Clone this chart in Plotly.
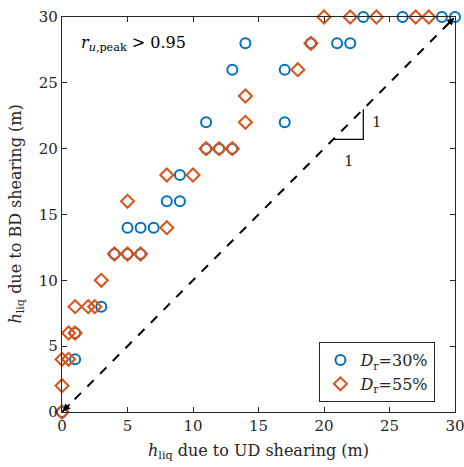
import plotly.graph_objects as go

# Dr = 30 % (blue circles)
ud_30 = [0, 1, 1, 3, 4, 5, 6, 5, 6, 7, 8, 9, 9, 11, 12, 13, 11, 17, 13, 17, 14, 19, 21, 22, 23, 26, 29, 30]
bd_30 = [0, 4, 6, 8, 12, 12, 12, 14, 14, 14, 16, 16, 18, 20, 20, 20, 22, 22, 26, 26, 28, 28, 28, 28, 30, 30, 30, 30]

# Dr = 55 % (orange diamonds)
ud_55 = [0, 0, 0, 0.5, 0.5, 1, 1, 2, 2.5, 3, 4, 5, 6, 8, 5, 8, 10, 11, 12, 13, 14, 14, 18, 19, 20, 22, 24, 27, 28]
bd_55 = [0, 2, 4, 4, 6, 6, 8, 8, 8, 10, 12, 12, 12, 14, 16, 18, 18, 20, 20, 20, 22, 24, 26, 28, 30, 30, 30, 30, 30]

one_to_one = [0, 30]
tick_vals = [0, 5, 10, 15, 20, 25, 30]
slope_x = [20.7, 23.0, 23.0]
slope_y = [20.7, 20.7, 23.0]

BLUE = "#0072BD"
ORANGE = "#D95319"
FONT = "'DejaVu Serif', 'Liberation Serif', serif"

fig = go.Figure()

fig.add_trace(go.Scatter(
    x=one_to_one, y=one_to_one, mode="lines",
    line=dict(color="black", width=2, dash="dash"),
    showlegend=False, hoverinfo="skip"))

fig.add_trace(go.Scatter(
    x=slope_x, y=slope_y, mode="lines",
    line=dict(color="black", width=1.2),
    showlegend=False, hoverinfo="skip"))

fig.add_trace(go.Scatter(
    x=ud_30, y=bd_30, mode="markers", cliponaxis=False,
    marker=dict(symbol="circle-open", size=10, color=BLUE, line=dict(width=2, color=BLUE)),
    name="<i>D</i><sub>r</sub>=30%"))

fig.add_trace(go.Scatter(
    x=ud_55, y=bd_55, mode="markers", cliponaxis=False,
    marker=dict(symbol="diamond-open", size=10, color=ORANGE, line=dict(width=2, color=ORANGE)),
    name="<i>D</i><sub>r</sub>=55%"))

axis_common = dict(
    range=[0, 30], tickvals=tick_vals, ticks="inside", ticklen=5, tickwidth=1,
    tickcolor="#262626", showline=True, linecolor="#262626", linewidth=1.2,
    mirror="ticks", showgrid=False, zeroline=False, automargin=False,
    ticklabeloverflow="allow",
    tickfont=dict(family=FONT, size=15, color="#262626"),
)

fig.update_layout(
    width=464, height=467,
    margin=dict(l=62, r=9, t=17, b=55, autoexpand=False),
    paper_bgcolor="white", plot_bgcolor="white",
    font=dict(family=FONT, size=15, color="#262626"),
    xaxis=dict(axis_common),
    yaxis=dict(axis_common),
    legend=dict(x=0.655, y=0.025, xanchor="left", yanchor="bottom",
                bgcolor="white", bordercolor="#262626", borderwidth=1,
                font=dict(family=FONT, size=16), itemwidth=30,
                tracegroupgap=0),
    annotations=[
        dict(x=0.5, y=-0.068, xref="paper", yref="paper", xanchor="center", yanchor="top",
             text="<i>h</i><sub>liq</sub> due to UD shearing (m)", showarrow=False,
             font=dict(family=FONT, size=16, color="#262626")),
        dict(x=-0.085, y=0.5, xref="paper", yref="paper", xanchor="right", yanchor="middle",
             text="<i>h</i><sub>liq</sub> due to BD shearing (m)", showarrow=False, textangle=-90,
             font=dict(family=FONT, size=16, color="#262626")),
        dict(x=1.3, y=28.0, xref="x", yref="y", xanchor="left", yanchor="middle",
             text="<i>r</i><sub><i>u</i>,peak</sub> > 0.95", showarrow=False,
             font=dict(family=FONT, size=16, color="black")),
        dict(x=23.5, y=22.0, xref="x", yref="y", xanchor="left", yanchor="middle",
             text="1", showarrow=False, font=dict(family=FONT, size=15, color="#262626")),
        dict(x=21.9, y=19.9, xref="x", yref="y", xanchor="center", yanchor="top",
             text="1", showarrow=False, font=dict(family=FONT, size=15, color="#262626")),
        dict(x=0.05, y=0.05, ax=0.7, ay=0.7, xref="x", yref="y", axref="x", ayref="y",
             text="", showarrow=True, arrowhead=2, arrowsize=1, arrowwidth=1.5, arrowcolor="black"),
        dict(x=29.95, y=29.95, ax=29.3, ay=29.3, xref="x", yref="y", axref="x", ayref="y",
             text="", showarrow=True, arrowhead=2, arrowsize=1, arrowwidth=1.5, arrowcolor="black"),
    ],
)

fig.write_html("out.html")
